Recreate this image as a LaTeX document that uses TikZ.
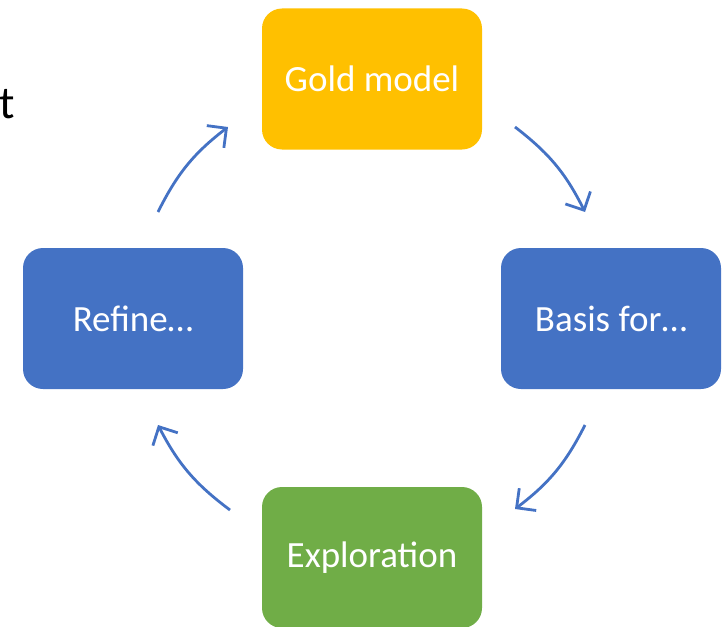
\documentclass[tikz,border=0pt]{standalone}
\usepackage{fontspec}
\setmainfont{Carlito}
\usetikzlibrary{arrows, arrows.meta}
\definecolor{goldbox}{HTML}{FFC000}
\definecolor{bluebox}{HTML}{4472C4}
\definecolor{greenbox}{HTML}{70AD47}
\begin{document}
\begin{tikzpicture}[x=1pt, y=-1pt,
    box/.style={rounded corners=20pt, minimum width=220pt, minimum height=141pt, inner sep=0pt, text=white, font=\fontsize{37}{44}\selectfont},
    cyc/.style={draw=bluebox, line width=2.8pt, -{Straight Barb[length=14pt, width=28pt]}, bend left=13}]
          \useasboundingbox (0,0) rectangle (722,626);
          \node[anchor=base west, inner sep=0pt, font=\fontsize{46}{54}\selectfont] (title) at (-1,118) {t};

          \node[box, fill=goldbox] (gold) at (372,79) {Gold model};
          \node[box, fill=bluebox] (basis) at (611,318.5) {Basis for\ldots};
          \node[box, fill=greenbox] (explore) at (372,557.5) {Exploration};
          \node[box, fill=bluebox] (refine) at (133,318.5) {Refine\ldots};

          \coordinate (a1) at (158,212); \coordinate (a2) at (228,127);
          \coordinate (b1) at (515,127); \coordinate (b2) at (585,212);
          \coordinate (c1) at (585,425); \coordinate (c2) at (515,509);
          \coordinate (d1) at (230,510); \coordinate (d2) at (158,425);

          \draw[cyc] (a1) to (a2);
          \draw[cyc] (b1) to (b2);
          \draw[cyc] (c1) to (c2);
          \draw[cyc] (d1) to (d2);
        \end{tikzpicture}
\end{document}
